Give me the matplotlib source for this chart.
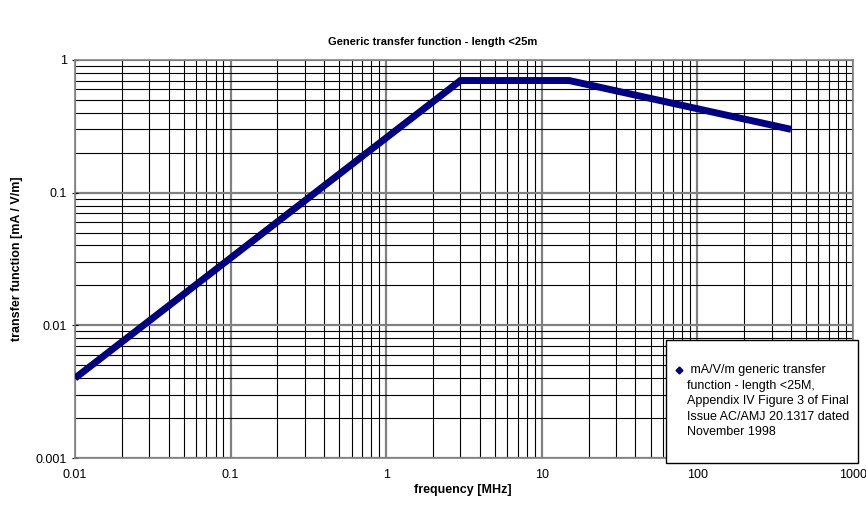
import matplotlib
matplotlib.use("Agg")
from matplotlib import pyplot as plt
from matplotlib.lines import Line2D
from matplotlib.patches import Rectangle
from matplotlib.ticker import LogLocator, FixedLocator, FixedFormatter, NullFormatter

# breakpoints of the generic transfer function
freq_mhz = [0.01, 3, 15, 400]
transfer = [0.004, 0.7, 0.7, 0.3]

x_ticks = [0.01, 0.1, 1, 10, 100, 1000]
x_labels = ['0.01', '0.1', '1', '10', '100', '1000']
y_ticks = [0.001, 0.01, 0.1, 1]
y_labels = ['0.001', '0.01', '0.1', '1']

legend_lines = [' mA/V/m generic transfer',
                'function - length <25M,',
                'Appendix IV Figure 3 of Final',
                'Issue AC/AMJ 20.1317 dated',
                'November 1998']

navy = '#000080'
plt.rcParams['font.family'] = ['Liberation Sans', 'DejaVu Sans']
plt.rcParams['font.size'] = 9

fig = plt.figure(figsize=(8.66, 5.07), dpi=100)
ax = fig.add_axes([0.0866, 0.0966, 0.8984, 0.7851])

ax.plot(freq_mhz, transfer, color=navy, linewidth=5, solid_joinstyle='miter',
        solid_capstyle='butt', zorder=5)

ax.set_xscale('log')
ax.set_yscale('log')
ax.set_xlim(0.01, 1000)
ax.set_ylim(0.001, 1)

ax.xaxis.set_major_locator(FixedLocator(x_ticks))
ax.xaxis.set_major_formatter(FixedFormatter(x_labels))
ax.yaxis.set_major_locator(FixedLocator(y_ticks))
ax.yaxis.set_major_formatter(FixedFormatter(y_labels))
ax.xaxis.set_minor_locator(LogLocator(base=10, subs=range(2, 10), numticks=20))
ax.yaxis.set_minor_locator(LogLocator(base=10, subs=range(2, 10), numticks=20))
ax.xaxis.set_minor_formatter(NullFormatter())
ax.yaxis.set_minor_formatter(NullFormatter())

ax.grid(which='major', color='#808080', linewidth=1.6)
ax.grid(which='minor', color='black', linewidth=0.8)
ax.set_axisbelow(True)

for s in ax.spines.values():
    s.set_color('#808080')
    s.set_linewidth(1.2)
ax.tick_params(which='minor', length=0)
ax.tick_params(axis='x', which='major', length=0, pad=8, labelsize=9)
ax.tick_params(axis='y', which='major', length=4, direction='inout', pad=4,
               color='black', labelsize=9)

fig.text(0.5, 0.918, 'Generic transfer function - length <25m', ha='center', va='center',
         fontsize=8, fontweight='bold')
fig.text(0.535, 0.033, 'frequency [MHz]', ha='center', va='center', fontsize=9,
         fontweight='bold')
fig.text(0.02, 0.49, 'transfer function [mA / V/m]', ha='center', va='center',
         rotation=90, fontsize=9, fontweight='bold')

# legend box drawn in figure coordinates
fig.add_artist(Rectangle((666 / 866, 1 - 463 / 507), 192 / 866, 123 / 507,
                         transform=fig.transFigure, facecolor='white',
                         edgecolor='black', linewidth=1.0, zorder=10))
fig.add_artist(Line2D([679 / 866], [1 - 370 / 507], transform=fig.transFigure,
                      color=navy, marker='D', markersize=3.5, linestyle='none', zorder=11))
fig.text(687 / 866, 1 - 364 / 507, '\n'.join(legend_lines), ha='left', va='top',
         fontsize=9, linespacing=1.4, zorder=11)

fig.savefig('out.png', dpi=100)
